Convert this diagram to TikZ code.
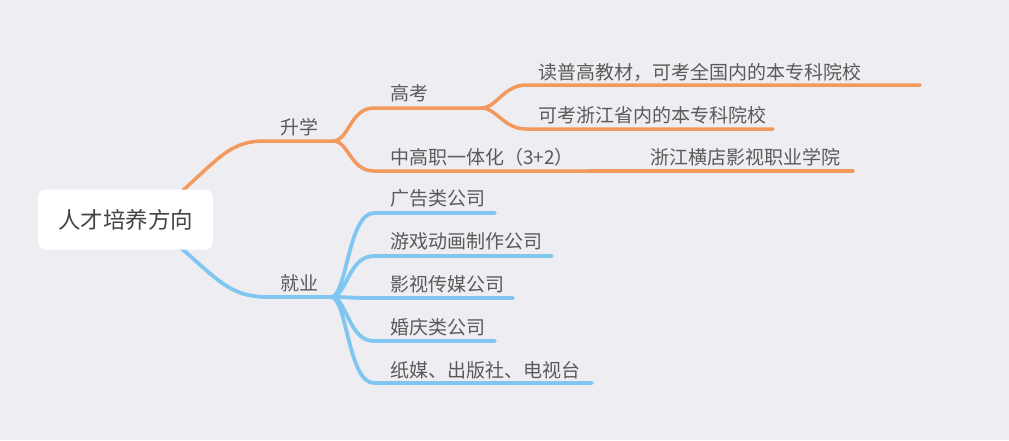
\documentclass[tikz,border=0pt]{standalone}
\usepackage{fontspec}
\setmainfont{Noto Sans CJK SC}
\definecolor{bgcol}{HTML}{EEEEF2}
\definecolor{mmorange}{HTML}{F2995E}
\definecolor{mmblue}{HTML}{80C6F0}
\definecolor{txtgray}{HTML}{5A5A5A}
\definecolor{txtdark}{HTML}{444444}

\begin{document}
\begin{tikzpicture}[x=1pt,y=-1pt,
  lbl/.style={anchor=west,inner sep=0pt,font=\fontsize{19}{21}\selectfont,text=txtgray},
  orangeline/.style={draw=mmorange,line width=3.5pt,line cap=round},
  blueline/.style={draw=mmblue,line width=3.8pt,line cap=round}]
  \path[fill=bgcol] (0,0) rectangle (1009,440);
  \useasboundingbox (0,0) rectangle (1009,440);

  % main branches start behind the central topic
  \coordinate (rootA) at (160,210);
  \coordinate (rootB) at (160,230);
  \coordinate (sxL) at (264,141);  \coordinate (sxR) at (333,141);
  \coordinate (jyL) at (268,297);  \coordinate (jyR) at (331,297);
  \path[orangeline] (rootA) .. controls (215,165) and (225,141) .. (sxL) -- (sxR);
  \path[blueline] (rootB) .. controls (215,275) and (225,297) .. (jyL) -- (jyR);

  % central topic
  \node[fill=white,rounded corners=8pt,minimum width=175pt,minimum height=60pt,
    font=\fontsize{22.5}{24}\selectfont,text=txtdark] (root) at (125.5,219.5) {人才培养方向};

  % 升学 branch
  \coordinate (gkL) at (374,108);  \coordinate (gkR) at (482,108);
  \coordinate (zgL) at (374,171);  \coordinate (zgR) at (587,171);
  \coordinate (hdR) at (853,171);
  \coordinate (duL) at (526,85);   \coordinate (duR) at (920,85);
  \coordinate (kkL) at (526,129);  \coordinate (kkR) at (773,129);

  \path[orangeline] (sxR) .. controls +(16,0) and +(-24,0) .. (gkL) -- (gkR);
  \path[orangeline] (sxR) .. controls +(16,0) and +(-24,0) .. (zgL) -- (zgR);
  \path[orangeline] (zgR) -- (hdR);
  \path[orangeline] (gkR) .. controls +(14,0) and +(-22,0) .. (duL) -- (duR);
  \path[orangeline] (gkR) .. controls +(14,0) and +(-22,0) .. (kkL) -- (kkR);

  \node[lbl] (shengxue) at (280,127) {升学};
  \node[lbl] (gaokao) at (390,93) {高考};
  \node[lbl] (dupu) at (538,72) {读普高教材，可考全国内的本专科院校};
  \node[lbl] (kekao) at (538,115) {可考浙江省内的本专科院校};
  \node[lbl] (zhonggao) at (390,157) {中高职一体化（3+2）};
  \node[lbl] (hengdian) at (650,157) {浙江横店影视职业学院};

  % 就业 branch
  \coordinate (ggL) at (374,213);  \coordinate (ggR) at (495,213);
  \coordinate (yxL) at (374,256);  \coordinate (yxR) at (552,256);
  \coordinate (ysL) at (374,298);  \coordinate (ysR) at (513,298);
  \coordinate (hqL) at (374,341);  \coordinate (hqR) at (495,341);
  \coordinate (zmL) at (374,383);  \coordinate (zmR) at (592,383);

  \foreach \c in {gg,yx,ys,hq,zm}
    \path[blueline] (jyR) .. controls +(16,0) and +(-26,0) .. (\c L) -- (\c R);

  \node[lbl] (jiuye) at (280,283) {就业};
  \node[lbl] (guanggao) at (390,198) {广告类公司};
  \node[lbl] (youxi) at (390,241) {游戏动画制作公司};
  \node[lbl] (yingshi) at (390,284) {影视传媒公司};
  \node[lbl] (hunqing) at (390,327) {婚庆类公司};
  \node[lbl] (zhimei) at (390,370) {纸媒、出版社、电视台};
\end{tikzpicture}
\end{document}
